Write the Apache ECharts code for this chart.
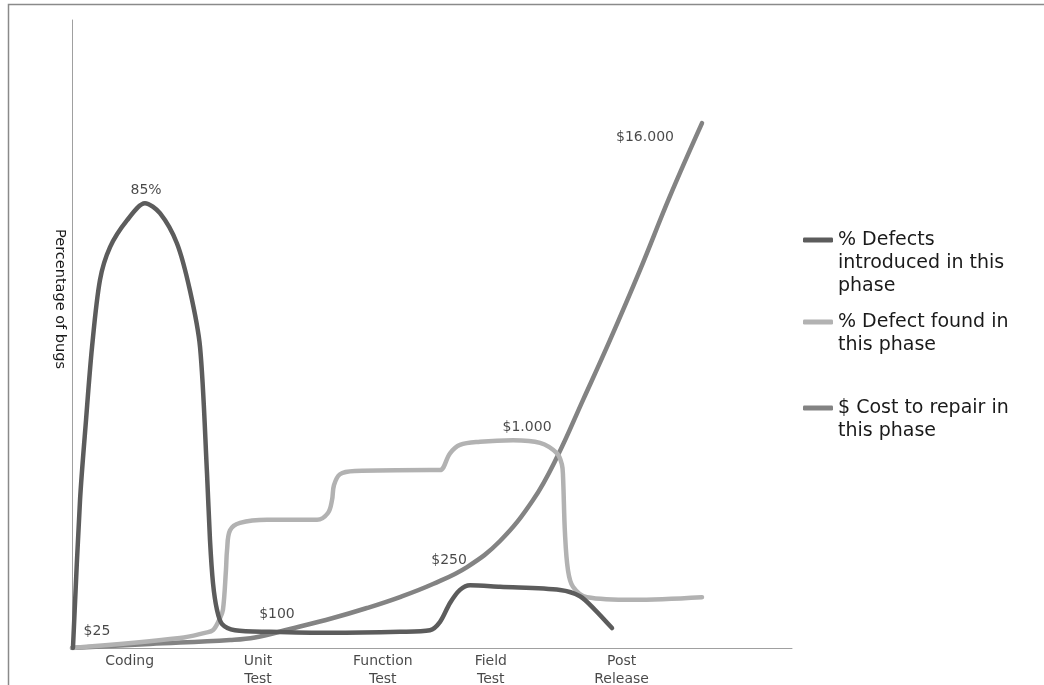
<!DOCTYPE html>
<html>
<head>
<meta charset="utf-8">
<script src="https://cdn.jsdelivr.net/npm/echarts@6/dist/echarts.min.js"></script>
<style>
html,body{margin:0;padding:0;background:#fff;}
#main{width:1044px;height:685px;}
</style>
</head>
<body>
<div id="main"></div>
<script>
// Phase labels and their positions along the x axis (phase units)
var categories = ['Coding', 'Unit\nTest', 'Function\nTest', 'Field\nTest', 'Post\nRelease'];
var categoryPos = [0.48, 1.55, 2.59, 3.49, 4.58];

var seriesNames = ['% Defects introduced in this phase', '% Defect found in this phase', '$ Cost to repair in this phase'];
var legendLabels = ['% Defects\nintroduced in this\nphase', '% Defect found in\nthis phase', '$ Cost to repair in\nthis phase'];

// [phase position, percentage]
var defectsIntroduced = [
  [0.008, 0], [0.067, 28.3], [0.117, 43.6], [0.167, 57.5], [0.233, 70.3], [0.317, 76.6],
  [0.458, 81.7], [0.608, 85], [0.733, 83.1], [0.875, 77.3], [0.983, 68.3], [1.067, 57.5],
  [1.125, 33.4], [1.15, 20.6], [1.175, 12.4], [1.208, 7.3], [1.25, 4.6], [1.358, 3.4],
  [1.65, 3.1], [2.15, 2.9], [2.733, 3.1], [2.983, 3.4], [3.067, 5.0], [3.15, 8.6],
  [3.233, 11.1], [3.317, 12.0], [3.567, 11.7], [4.067, 11.1], [4.233, 9.9], [4.358, 7.3], [4.5, 3.8]
];
var defectsFound = [
  [0, 0], [0.9, 1.9], [1.108, 2.9], [1.175, 3.4], [1.233, 5.7], [1.258, 7.3], [1.283, 14.9],
  [1.292, 18.7], [1.317, 22.5], [1.4, 23.9], [1.625, 24.5], [2.042, 24.5], [2.133, 25.8],
  [2.167, 28.3], [2.183, 31.1], [2.233, 33.2], [2.358, 33.8], [2.983, 34.0], [3.067, 34.0],
  [3.15, 37.2], [3.233, 38.8], [3.4, 39.4], [3.675, 39.7], [3.9, 39.2], [4.042, 37.2],
  [4.083, 35.0], [4.092, 32.7], [4.108, 22.0], [4.133, 14.9], [4.175, 11.7], [4.292, 9.7],
  [4.675, 9.2], [5.25, 9.7]
];
var repairCost = [
  [0, 0], [0.65, 0.76], [1.317, 1.53], [1.525, 2.01], [1.817, 3.63], [2.175, 5.73], [2.458, 7.64],
  [2.733, 9.74], [3.008, 12.23], [3.292, 15.47], [3.567, 20.44], [3.842, 28.27], [4.042, 36.49],
  [4.258, 47.37], [4.483, 58.83], [4.733, 72.21], [4.983, 86.34], [5.25, 100.29]
];
// annotation texts and where they sit
var noteTexts = ['85%', '$25', '$100', '$250', '$1.000', '$16.000'];
var notePos = [[0.617, 87.5], [0.208, 3.1], [1.708, 6.5], [3.142, 16.8], [3.792, 42.2], [4.775, 97.6]];

var colors = ['#5c5c5c', '#b2b2b2', '#838383'];
var FONT = 'DejaVu Sans, Verdana, sans-serif';
var TEXT = '#1a1a1a';

var chart = echarts.init(document.getElementById('main'), null, {renderer: 'canvas'});

function lineSeries(i, data, smooth) {
  return {
    name: seriesNames[i], type: 'line', data: data, smooth: smooth, showSymbol: false,
    symbol: 'none', lineStyle: {color: colors[i], width: 4.5, cap: 'round', join: 'round'},
    itemStyle: {color: colors[i]}, silent: true, z: 3 - i + 2
  };
}

function makeLegend(i, top) {
  var lines = legendLabels[i].split('\n').length;
  var lead = new Array(lines).join('\n');
  return {
    data: [seriesNames[i]], left: 803, top: top, padding: 0, orient: 'vertical',
    icon: 'roundRect', itemWidth: 30, itemHeight: 5, itemGap: 0, selectedMode: false,
    formatter: function () { return lead + legendLabels[i]; },
    textStyle: {fontFamily: FONT, fontSize: 19, color: TEXT, lineHeight: 23}
  };
}

var option = {
  animation: false,
  backgroundColor: '#fff',
  grid: {left: 72, top: 20, width: 720, bottom: 37},
  xAxis: {
    type: 'value', min: 0, max: 6,
    axisLine: {show: true, lineStyle: {color: '#a0a0a0', width: 1}},
    axisTick: {show: false}, axisLabel: {show: false}, splitLine: {show: false}
  },
  yAxis: {
    type: 'value', min: 0, max: 120,
    name: 'Percentage of bugs', nameLocation: 'middle', nameRotate: -90, nameGap: 5,
    nameTextStyle: {fontFamily: FONT, fontSize: 14.5, color: TEXT, padding: [0, 70, 0, 0]},
    axisLine: {show: true, lineStyle: {color: '#a0a0a0', width: 1}},
    axisTick: {show: false}, axisLabel: {show: false}, splitLine: {show: false}
  },
  legend: [makeLegend(0, 182.5), makeLegend(1, 287.5), makeLegend(2, 373.5)],
  series: [
    lineSeries(0, defectsIntroduced, 0.3),
    lineSeries(1, defectsFound, 0.35),
    lineSeries(2, repairCost, 0.4),
    {
      type: 'scatter', symbolSize: 0, silent: true,
      data: categories.map(function (c, k) { return {value: [categoryPos[k], 0], name: c}; }),
      label: {show: true, position: 'bottom', distance: 4, formatter: function (p) { return p.name; },
        fontFamily: FONT, fontSize: 14, color: TEXT, lineHeight: 18, align: 'center'}
    },
    {
      type: 'scatter', symbolSize: 0, silent: true, z: 10,
      data: noteTexts.map(function (t, k) { return {value: notePos[k], name: t}; }),
      label: {show: true, position: 'inside', formatter: function (p) { return p.name; },
        fontFamily: FONT, fontSize: 14, color: TEXT}
    }
  ],
  graphic: [
    {type: 'polyline', shape: {points: [[8.5, 685], [8.5, 4.5], [1044, 4.5]]},
      style: {stroke: '#8a8a8a', lineWidth: 1.5, fill: null}, silent: true}
  ]
};
chart.setOption(option);
</script>
</body>
</html>
